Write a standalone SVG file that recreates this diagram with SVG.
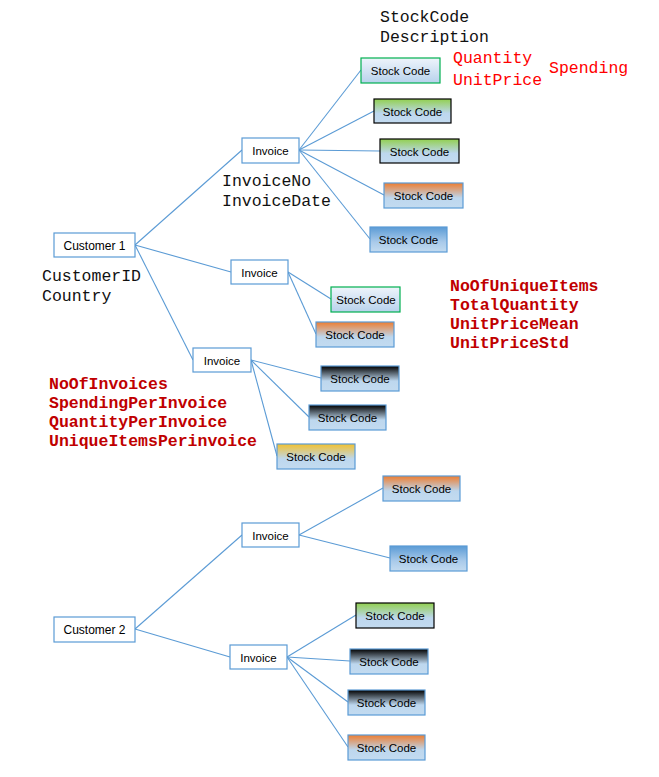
<svg xmlns="http://www.w3.org/2000/svg" width="659" height="777" viewBox="0 0 659 777">
<style>
.box{fill:#fff;stroke:#5B9BD5;stroke-width:1.2}
.sc{stroke:#5B9BD5;stroke-width:1.2}
.bk{stroke:#000}
.gr{stroke:#00B050}
.lbl{font-family:"Liberation Sans",Arial,sans-serif;font-size:11.5px;fill:#000;text-anchor:middle}
.cust{font-size:12px}
.mono{font-family:"Liberation Mono","Courier New",monospace;font-size:16.5px}
.attr{fill:#111}
.red{fill:#FF0000}
.dred{fill:#C00000;font-weight:bold}
#connectors line{stroke:#5B9BD5;stroke-width:1.1}
</style>
<defs>
<linearGradient id="gW" x1="0" y1="0" x2="0" y2="1"><stop offset="0" stop-color="#EEF4FB"/><stop offset="1" stop-color="#B8D2EC"/></linearGradient>
<linearGradient id="gG" x1="0" y1="0" x2="0" y2="1"><stop offset="0" stop-color="#92D050"/><stop offset="0.6" stop-color="#BDD7EE"/><stop offset="1" stop-color="#C3DBF0"/></linearGradient>
<linearGradient id="gO" x1="0" y1="0" x2="0" y2="1"><stop offset="0" stop-color="#ED7D31"/><stop offset="0.6" stop-color="#BDD7EE"/><stop offset="1" stop-color="#C3DBF0"/></linearGradient>
<linearGradient id="gB" x1="0" y1="0" x2="0" y2="1"><stop offset="0" stop-color="#5B9BD5"/><stop offset="0.6" stop-color="#A9CAEA"/><stop offset="1" stop-color="#C3DBF0"/></linearGradient>
<linearGradient id="gK" x1="0" y1="0" x2="0" y2="1"><stop offset="0" stop-color="#000"/><stop offset="0.6" stop-color="#BDD7EE"/><stop offset="1" stop-color="#C3DBF0"/></linearGradient>
<linearGradient id="gY" x1="0" y1="0" x2="0" y2="1"><stop offset="0" stop-color="#F2C12E"/><stop offset="0.6" stop-color="#BDD7EE"/><stop offset="1" stop-color="#C3DBF0"/></linearGradient>
</defs>
<rect width="659" height="777" fill="#fff"/>
<g id="connectors">
<line x1="135" y1="245" x2="242" y2="150"/>
<line x1="135" y1="245" x2="231" y2="272"/>
<line x1="135" y1="245" x2="193" y2="360"/>
<line x1="299" y1="150" x2="361" y2="70"/>
<line x1="299" y1="150" x2="374" y2="111"/>
<line x1="299" y1="150" x2="380" y2="151"/>
<line x1="299" y1="150" x2="384" y2="195"/>
<line x1="299" y1="150" x2="370" y2="239"/>
<line x1="288" y1="272" x2="331" y2="299"/>
<line x1="288" y1="272" x2="316" y2="334"/>
<line x1="251" y1="360" x2="321" y2="378"/>
<line x1="251" y1="360" x2="309" y2="417"/>
<line x1="251" y1="360" x2="277" y2="456"/>
<line x1="135" y1="629" x2="242" y2="535"/>
<line x1="135" y1="629" x2="230" y2="657"/>
<line x1="299" y1="535" x2="383" y2="488"/>
<line x1="299" y1="535" x2="390" y2="558"/>
<line x1="287" y1="657" x2="356" y2="615"/>
<line x1="287" y1="657" x2="350" y2="661"/>
<line x1="287" y1="657" x2="348" y2="702"/>
<line x1="287" y1="657" x2="348" y2="747"/>
</g>
<g id="customer1"><rect class="box" x="54" y="233" width="81" height="24"/><text class="lbl cust" x="94.5" y="249.5">Customer 1</text></g>
<g id="customer2"><rect class="box" x="54" y="617" width="81" height="25"/><text class="lbl cust" x="94.5" y="634">Customer 2</text></g>
<g id="inv1"><rect class="box" x="242" y="138" width="57" height="25"/><text class="lbl" x="270.5" y="155">Invoice</text></g>
<g id="inv2"><rect class="box" x="231" y="260" width="57" height="24"/><text class="lbl" x="259.5" y="276.5">Invoice</text></g>
<g id="inv3"><rect class="box" x="193" y="348" width="58" height="24"/><text class="lbl" x="222" y="364.5">Invoice</text></g>
<g id="inv4"><rect class="box" x="242" y="523" width="57" height="24"/><text class="lbl" x="270.5" y="539.5">Invoice</text></g>
<g id="inv5"><rect class="box" x="230" y="645" width="57" height="24"/><text class="lbl" x="258.5" y="661.5">Invoice</text></g>
<g id="sc1"><rect class="sc gr" x="361" y="58" width="79" height="25" fill="url(#gW)"/><text class="lbl" x="400.5" y="75">Stock Code</text></g>
<g id="sc2"><rect class="sc bk" x="374" y="99" width="77" height="24" fill="url(#gG)"/><text class="lbl" x="412.5" y="115.5">Stock Code</text></g>
<g id="sc3"><rect class="sc bk" x="380" y="139" width="79" height="24" fill="url(#gG)"/><text class="lbl" x="419.5" y="155.5">Stock Code</text></g>
<g id="sc4"><rect class="sc" x="384" y="183" width="79" height="25" fill="url(#gO)"/><text class="lbl" x="423.5" y="200">Stock Code</text></g>
<g id="sc5"><rect class="sc" x="370" y="227" width="77" height="25" fill="url(#gB)"/><text class="lbl" x="408.5" y="244">Stock Code</text></g>
<g id="sc6"><rect class="sc gr" x="331" y="287" width="69" height="25" fill="url(#gW)"/><text class="lbl" x="366" y="303.5">Stock Code</text></g>
<g id="sc7"><rect class="sc" x="316" y="322" width="78" height="25" fill="url(#gO)"/><text class="lbl" x="355" y="339">Stock Code</text></g>
<g id="sc8"><rect class="sc" x="321" y="366" width="78" height="25" fill="url(#gK)"/><text class="lbl" x="360" y="383">Stock Code</text></g>
<g id="sc9"><rect class="sc" x="309" y="405" width="77" height="25" fill="url(#gK)"/><text class="lbl" x="347.5" y="422">Stock Code</text></g>
<g id="sc10"><rect class="sc" x="277" y="444" width="78" height="25" fill="url(#gY)"/><text class="lbl" x="316" y="461">Stock Code</text></g>
<g id="sc11"><rect class="sc" x="383" y="476" width="77" height="25" fill="url(#gO)"/><text class="lbl" x="421.5" y="493">Stock Code</text></g>
<g id="sc12"><rect class="sc" x="390" y="546" width="77" height="25" fill="url(#gB)"/><text class="lbl" x="428.5" y="563">Stock Code</text></g>
<g id="sc13"><rect class="sc bk" x="356" y="603" width="78" height="25" fill="url(#gG)"/><text class="lbl" x="395" y="620">Stock Code</text></g>
<g id="sc14"><rect class="sc" x="350" y="649" width="78" height="25" fill="url(#gK)"/><text class="lbl" x="389" y="666">Stock Code</text></g>
<g id="sc15"><rect class="sc" x="348" y="690" width="77" height="25" fill="url(#gK)"/><text class="lbl" x="386.5" y="707">Stock Code</text></g>
<g id="sc16"><rect class="sc" x="348" y="735" width="77" height="25" fill="url(#gO)"/><text class="lbl" x="386.5" y="752">Stock Code</text></g>
<g id="texts">
<text class="mono attr" x="380" y="22">StockCode</text>
<text class="mono attr" x="380" y="42">Description</text>
<text class="mono red" x="453" y="63">Quantity</text>
<text class="mono red" x="453" y="85">UnitPrice</text>
<text class="mono red" x="549" y="73">Spending</text>
<text class="mono attr" x="222" y="186">InvoiceNo</text>
<text class="mono attr" x="222" y="206">InvoiceDate</text>
<text class="mono attr" x="42" y="281">CustomerID</text>
<text class="mono attr" x="42" y="301">Country</text>
<text class="mono dred" x="450" y="291">NoOfUniqueItems</text>
<text class="mono dred" x="450" y="310">TotalQuantity</text>
<text class="mono dred" x="450" y="329">UnitPriceMean</text>
<text class="mono dred" x="450" y="348">UnitPriceStd</text>
<text class="mono dred" x="49" y="389">NoOfInvoices</text>
<text class="mono dred" x="49" y="408">SpendingPerInvoice</text>
<text class="mono dred" x="49" y="427">QuantityPerInvoice</text>
<text class="mono dred" x="49" y="446">UniqueItemsPerinvoice</text>
</g>
</svg>
